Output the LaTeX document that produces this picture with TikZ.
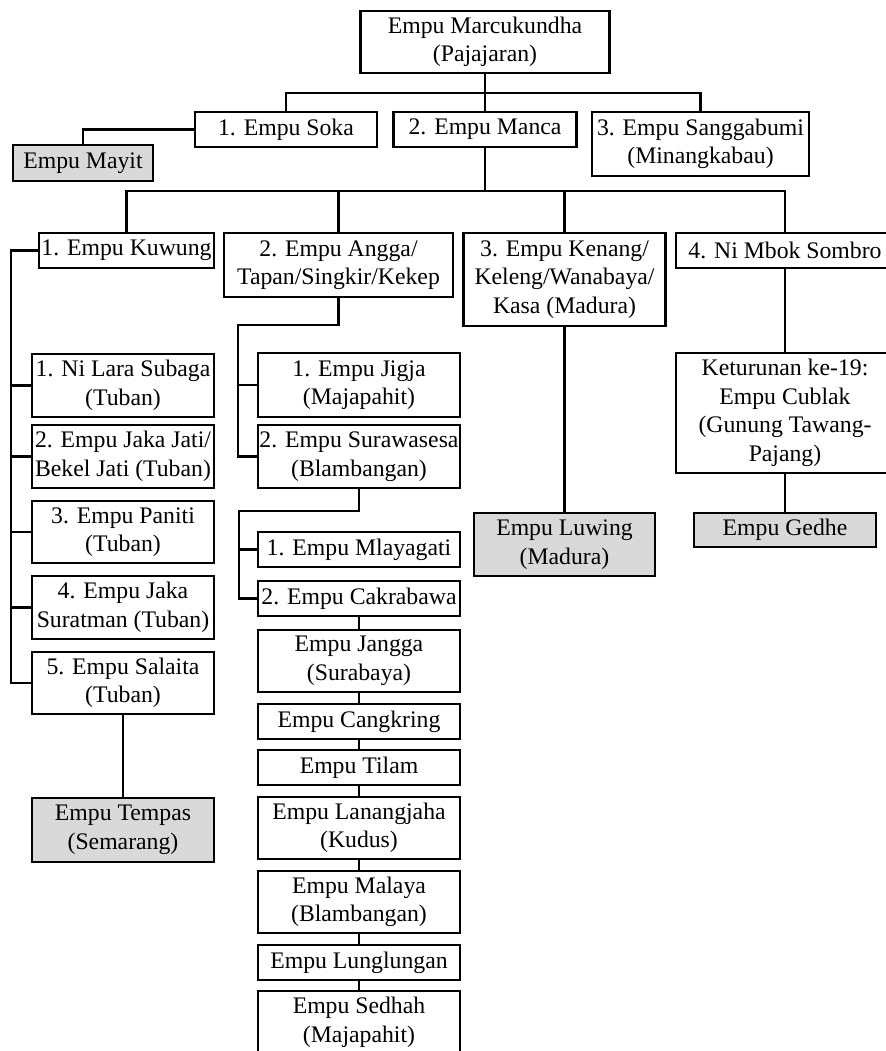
\documentclass[tikz,border=0pt]{standalone}
\usepackage{fontspec}
\setmainfont{Liberation Serif}
\definecolor{greyfill}{RGB}{217,217,217}

\begin{document}
\begin{tikzpicture}[x=0.75pt,y=0.75pt,yscale=-1,xscale=1,
  box/.style={draw, line width=1.6pt, fill=white, inner sep=1pt, align=center,
    font=\fontsize{17.8}{21.4}\selectfont},
  grey/.style={box, fill=greyfill},
  wh/.style 2 args={minimum width=#1*0.75pt, minimum height=#2*0.75pt},
  link/.style={line width=1.6pt}]
\useasboundingbox (0,0) rectangle (886,1051);

%Shape: Rectangle [top]
\node[box, wh={249}{62}] (marc) at (485,42) {Empu Marcukundha\\(Pajajaran)};
%Shape: Rectangle [children of Marcukundha]
\node[box, wh={182}{35}] (soka) at (286,129.5) {1. Empu Soka};
\node[box, wh={183}{35}] (manca) at (485,129.5) {2. Empu Manca};
\node[box, wh={217}{64}] (sangga) at (700.5,144) {3. Empu Sanggabumi\\(Minangkabau)};
\node[grey, wh={140}{36}] (mayit) at (83,163) {Empu Mayit};
%Shape: Rectangle [children of Manca]
\node[box, wh={175}{35}] (kuwung) at (126.5,250.5) {1. Empu Kuwung};
\node[box, wh={229}{64}] (angga) at (338.5,265) {2. Empu Angga/\\Tapan/Singkir/Kekep};
\node[box, wh={202}{93}] (kenang) at (564.5,279.5) {3. Empu Kenang/\\Keleng/Wanabaya/\\Kasa (Madura)};
\node[box, wh={218}{35}] (sombro) at (785,250.5) {4. Ni Mbok Sombro};

%Shape: Rectangle [Kuwung line]
\node[box, wh={182}{63}] (nilara) at (123,385.5) {1. Ni Lara Subaga\\(Tuban)};
\node[box, wh={182}{63}] (jakajati) at (123,456.5) {2. Empu Jaka Jati/\\Bekel Jati (Tuban)};
\node[box, wh={182}{62}] (paniti) at (123,532) {3. Empu Paniti\\(Tuban)};
\node[box, wh={182}{63}] (suratman) at (123,607.5) {4. Empu Jaka\\Suratman (Tuban)};
\node[box, wh={182}{62}] (salaita) at (123,683) {5. Empu Salaita\\(Tuban)};
\node[grey, wh={182}{64}] (tempas) at (123,830) {Empu Tempas\\(Semarang)};

%Shape: Rectangle [Angga line]
\node[box, wh={202}{64}] (jigja) at (359,385) {1. Empu Jigja\\(Majapahit)};
\node[box, wh={202}{63}] (surawasesa) at (359,456.5) {2. Empu Surawasesa\\(Blambangan)};
\node[box, wh={202}{35}] (mlayagati) at (359,549.5) {1. Empu Mlayagati};
\node[box, wh={202}{35}] (cakrabawa) at (359,598.5) {2. Empu Cakrabawa};
\node[box, wh={202}{62}] (jangga) at (359,661) {Empu Jangga\\(Surabaya)};
\node[box, wh={202}{35}] (cangkring) at (359,721.5) {Empu Cangkring};
\node[box, wh={202}{35}] (tilam) at (359,767.5) {Empu Tilam};
\node[box, wh={202}{62}] (lanangjaha) at (359,828) {Empu Lanangjaha\\(Kudus)};
\node[box, wh={202}{62}] (malaya) at (359,902) {Empu Malaya\\(Blambangan)};
\node[box, wh={202}{35}] (lunglungan) at (359,962.5) {Empu Lunglungan};
\node[box, wh={202}{63}] (sedhah) at (359,1022.5) {Empu Sedhah\\(Majapahit)};

%Shape: Rectangle [Kenang and Sombro lines]
\node[grey, wh={181}{63}] (luwing) at (564.5,544.5) {Empu Luwing\\(Madura)};
\node[box, wh={218}{120}] (cublak) at (785,413) {Keturunan ke-19:\\Empu Cublak\\(Gunung Tawang-\\Pajang)};
\node[grey, wh={182}{34}] (gedhe) at (785,530) {Empu Gedhe};

% bus points
\coordinate (busA) at (485,93);
\coordinate (busB) at (485,191);
\coordinate (kwbar) at (11,250.5);
\coordinate (agbar) at (238,325);
\coordinate (swbar) at (239,511);

%Straight Lines
\draw[link] (marc) -- (busA) -- (manca);
\draw[link] (soka.north) |- (busA) -| (sangga.north);
\draw[link] (soka.west) -| (mayit.north);
\draw[link] (manca) -- (busB);
\draw[link] (kuwung.north) |- (busB) -| (sombro.north);
\draw[link] (angga.north) -- (angga.north |- busB);
\draw[link] (kenang.north) -- (kenang.north |- busB);

\draw[link] (kuwung.west) -- (kwbar) |- (salaita.west);
\foreach \n in {nilara,jakajati,paniti,suratman}
  \draw[link] (\n.west) -- (\n.west -| kwbar);
\draw[link] (salaita) -- (tempas);

\draw[link] (angga.south) |- (agbar) |- (surawasesa.west);
\draw[link] (jigja.west) -- (jigja.west -| agbar);
\draw[link] (surawasesa.south) |- (swbar) |- (cakrabawa.west);
\draw[link] (mlayagati.west) -- (mlayagati.west -| swbar);
\foreach \a/\b in {cakrabawa/jangga,jangga/cangkring,cangkring/tilam,tilam/lanangjaha,
  lanangjaha/malaya,malaya/lunglungan,lunglungan/sedhah}
  \draw[link] (\a) -- (\b);

\draw[link] (kenang) -- (luwing);
\draw[link] (sombro) -- (cublak) -- (gedhe);

\end{tikzpicture}
\end{document}
